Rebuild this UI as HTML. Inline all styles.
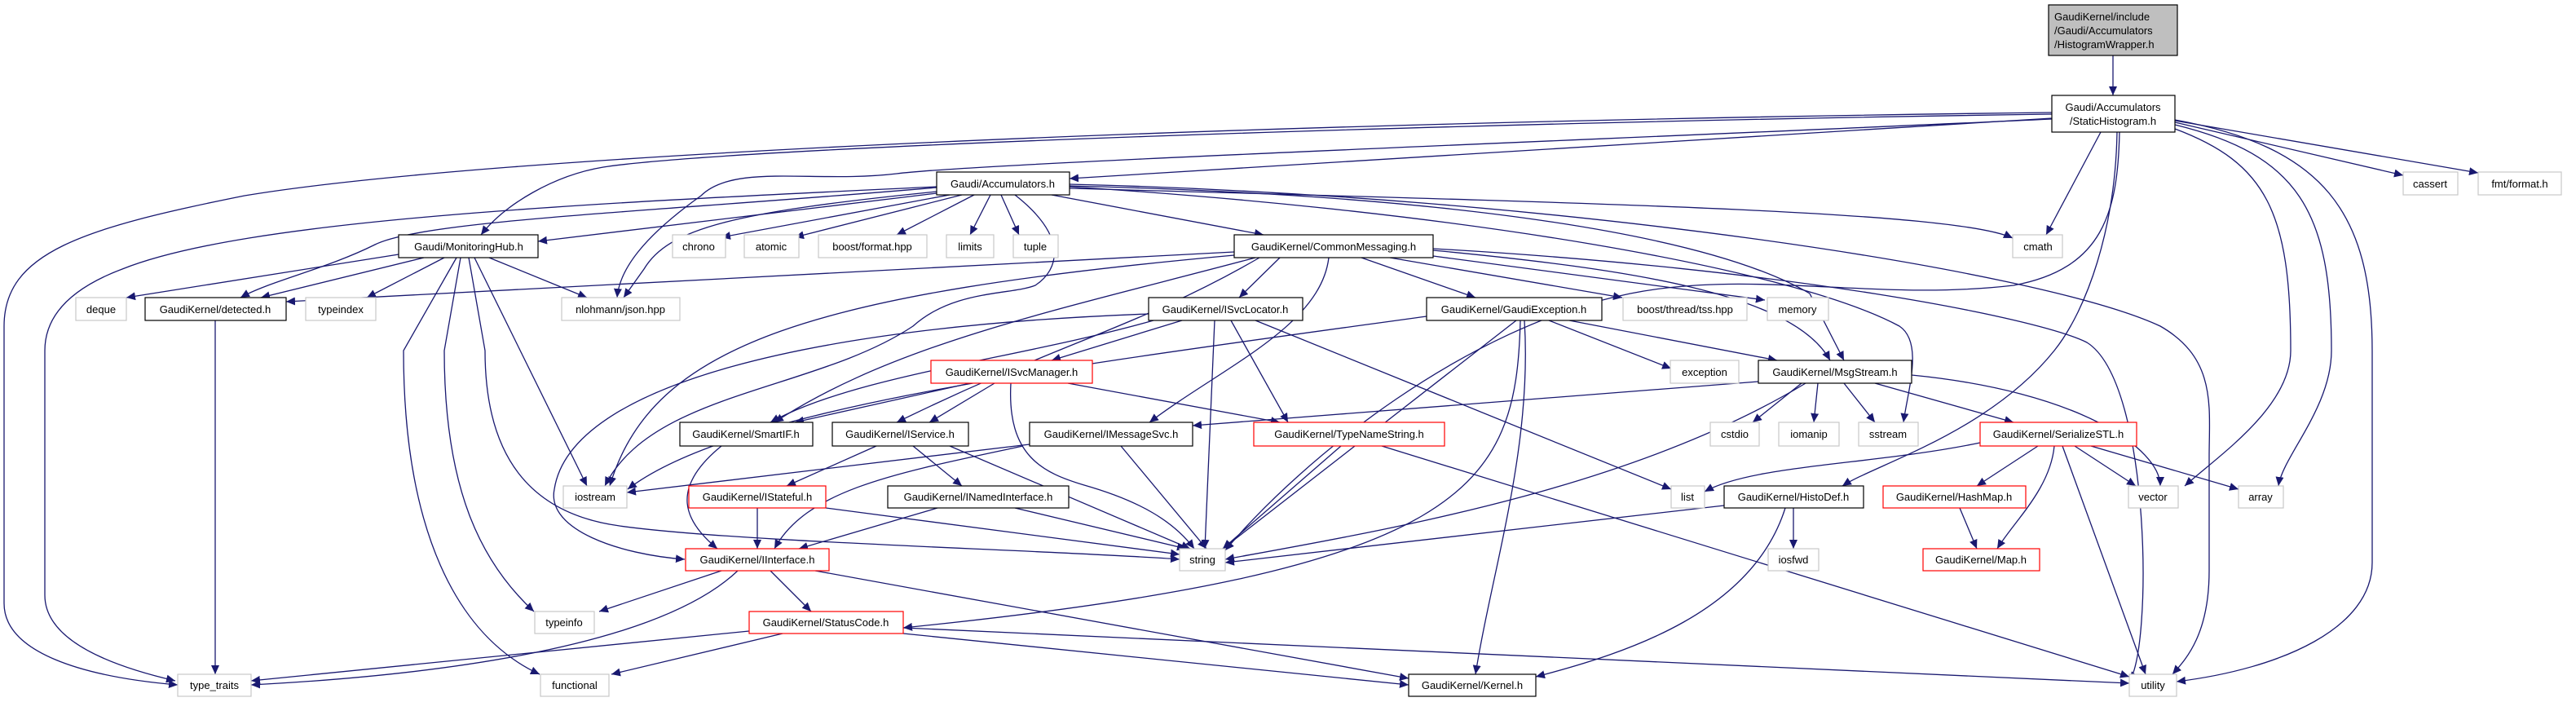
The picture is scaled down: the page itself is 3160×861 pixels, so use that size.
<!DOCTYPE html>
<html><head><meta charset="utf-8"><style>
html,body{margin:0;padding:0;background:#fff;}
svg{display:block;}
text{font-family:"Liberation Sans",sans-serif;font-size:13px;fill:#000;}
.e{fill:none;stroke:#191970;stroke-width:1.3;marker-end:url(#a);}
.b{fill:#fff;stroke:#000;stroke-width:1.2;}
.g{fill:#fff;stroke:#c8c8c8;stroke-width:1.2;}
.r{fill:#fff;stroke:#ff0000;stroke-width:1.2;}
</style></head><body>
<svg width="3160" height="861" viewBox="0 0 3160 861" xmlns="http://www.w3.org/2000/svg">
<defs><marker id="a" markerUnits="userSpaceOnUse" markerWidth="12" markerHeight="10" refX="11" refY="5" orient="auto"><path d="M0,0 L11,5 L0,10 z" fill="#191970"/></marker></defs>
<g>
<path class="e" d="M2592,68 L2592,117"/>
<path class="e" d="M2517,145 L1312,219"/>
<path class="e" d="M2517,140 C1800,150 900,180 740,205 C680,215 620,250 590,288"/>
<path class="e" d="M2517,138 C1500,150 600,190 300,240 C100,280 5,310 5,400 L5,740 C5,800 100,830 218,840"/>
<path class="e" d="M2517,146 C2000,170 1200,200 1100,213 C1000,225 900,200 860,240 C790,290 760,330 757,365"/>
<path class="e" d="M2577,162 L2510,288"/>
<path class="e" d="M2668,150 L2948,215"/>
<path class="e" d="M2668,148 L3040,212"/>
<path class="e" d="M2668,158 C2780,200 2810,260 2810,430 C2810,500 2720,560 2680,596"/>
<path class="e" d="M2668,153 C2820,190 2860,260 2860,430 C2860,500 2800,560 2795,596"/>
<path class="e" d="M2668,147 C2850,180 2910,260 2910,430 L2910,690 C2910,770 2800,820 2670,836"/>
<path class="e" d="M2600,162 C2598,260 2580,330 2470,350 C2300,370 2150,330 2000,360 C1800,400 1600,560 1503,675"/>
<path class="e" d="M2597,162 C2595,280 2560,380 2520,430 C2440,530 2300,570 2260,596"/>
<path class="e" d="M1149,237 L660,296"/>
<path class="e" d="M1165,239 L885,291"/>
<path class="e" d="M1180,239 L975,291"/>
<path class="e" d="M1195,239 L1100,288"/>
<path class="e" d="M1215,239 L1190,288"/>
<path class="e" d="M1228,239 L1250,288"/>
<path class="e" d="M1290,239 L1550,288"/>
<path class="e" d="M1312,231 C2000,250 2400,260 2469,292"/>
<path class="e" d="M1149,230 C800,260 520,270 460,300 C400,330 330,345 295,365"/>
<path class="e" d="M1149,229 C700,250 300,270 150,330 C70,360 55,400 55,430 L55,730 C55,790 150,820 215,835"/>
<path class="e" d="M1149,235 C900,260 820,280 790,330 L765,365"/>
<path class="e" d="M1245,239 C1310,290 1300,330 1270,350 C1240,362 1170,355 1120,400 C1000,480 800,480 742,596"/>
<path class="e" d="M1312,228 C1800,240 2100,290 2220,360 L2262,442"/>
<path class="e" d="M1312,226 C1900,240 2500,330 2650,400 C2720,440 2710,500 2710,560 L2710,700 C2710,780 2680,810 2665,827"/>
<path class="e" d="M1312,229 C1800,260 2200,330 2330,400 C2360,420 2340,480 2335,518"/>
<path class="e" d="M489,312 L155,365"/>
<path class="e" d="M520,316 L320,365"/>
<path class="e" d="M545,316 L450,365"/>
<path class="e" d="M600,316 L720,365"/>
<path class="e" d="M582,316 L720,596"/>
<path class="e" d="M575,316 L595,430 C595,560 650,630 760,645 C900,665 1300,675 1447,686"/>
<path class="e" d="M565,316 L545,430 C545,600 590,690 655,750"/>
<path class="e" d="M560,316 L495,430 C495,650 560,780 662,827"/>
<path class="e" d="M1514,309 L351,370"/>
<path class="e" d="M1570,316 L1520,365"/>
<path class="e" d="M1670,316 L1810,365"/>
<path class="e" d="M1705,316 L1990,365"/>
<path class="e" d="M1758,314 L2165,368"/>
<path class="e" d="M1758,307 C2000,330 2200,360 2245,442"/>
<path class="e" d="M1758,305 C2200,330 2500,390 2560,420 C2640,470 2640,800 2612,835"/>
<path class="e" d="M1540,316 C1300,380 1100,420 950,518"/>
<path class="e" d="M1545,316 C1400,400 1300,420 1100,518"/>
<path class="e" d="M1630,316 C1620,400 1500,450 1410,518"/>
<path class="e" d="M1514,313 C1000,360 800,420 748,596"/>
<path class="e" d="M1450,393 L1290,442"/>
<path class="e" d="M1415,393 C1250,440 1050,460 945,518"/>
<path class="e" d="M1409,385 C1000,400 700,470 680,600 C670,650 760,680 840,686"/>
<path class="e" d="M1490,393 L1478,673"/>
<path class="e" d="M1510,393 L1580,518"/>
<path class="e" d="M1540,393 L2050,600"/>
<path class="e" d="M1750,388 C1300,450 900,500 770,600"/>
<path class="e" d="M1900,393 L2050,452"/>
<path class="e" d="M1925,393 L2180,442"/>
<path class="e" d="M1860,393 L1500,673"/>
<path class="e" d="M1870,393 C1880,550 1830,700 1810,827"/>
<path class="e" d="M1865,393 C1860,600 1800,700 1108,770"/>
<path class="e" d="M1190,470 L975,518"/>
<path class="e" d="M1220,470 L1140,518"/>
<path class="e" d="M1310,470 L1570,518"/>
<path class="e" d="M1240,470 C1235,560 1280,580 1330,595 C1400,615 1440,640 1465,673"/>
<path class="e" d="M2157,468 L1463,522"/>
<path class="e" d="M2210,470 L2150,518"/>
<path class="e" d="M2230,470 L2225,518"/>
<path class="e" d="M2262,470 L2300,518"/>
<path class="e" d="M2300,470 L2470,518"/>
<path class="e" d="M2345,460 C2550,480 2650,550 2650,596"/>
<path class="e" d="M2215,470 C2000,600 1700,650 1503,686"/>
<path class="e" d="M2429,543 C2300,570 2150,570 2091,603"/>
<path class="e" d="M2500,547 L2425,596"/>
<path class="e" d="M2520,547 C2515,600 2470,640 2450,673"/>
<path class="e" d="M2545,547 L2620,596"/>
<path class="e" d="M2565,547 L2746,600"/>
<path class="e" d="M2530,547 L2632,827"/>
<path class="e" d="M2200,623 L2200,673"/>
<path class="e" d="M2115,620 L1503,690"/>
<path class="e" d="M2190,623 C2150,750 2000,800 1884,830"/>
<path class="e" d="M2404,623 L2425,673"/>
<path class="e" d="M1645,547 L1500,673"/>
<path class="e" d="M1695,547 L2612,830"/>
<path class="e" d="M1263,545 L769,604"/>
<path class="e" d="M1255,547 C1100,580 990,600 950,673"/>
<path class="e" d="M1375,547 L1480,673"/>
<path class="e" d="M885,547 C820,600 840,640 880,673"/>
<path class="e" d="M1075,547 L965,596"/>
<path class="e" d="M1120,547 L1180,596"/>
<path class="e" d="M1165,547 L1460,673"/>
<path class="e" d="M929,623 L929,673"/>
<path class="e" d="M1013,623 L1447,680"/>
<path class="e" d="M1150,623 L980,673"/>
<path class="e" d="M1245,623 L1455,673"/>
<path class="e" d="M885,700 L735,750"/>
<path class="e" d="M945,700 L995,750"/>
<path class="e" d="M905,700 C800,800 500,830 308,840"/>
<path class="e" d="M1000,700 L1728,832"/>
<path class="e" d="M919,774 L308,835"/>
<path class="e" d="M960,777 L750,827"/>
<path class="e" d="M1108,777 L1728,840"/>
<path class="e" d="M1108,770 L2612,838"/>
<path class="e" d="M264,393 L264,827"/>
</g>
<g>
<rect x="2513" y="6" width="158" height="62" fill="#bfbfbf" stroke="#000" stroke-width="1.2"/>
<text x="2520" y="25">GaudiKernel/include</text>
<text x="2520" y="42">/Gaudi/Accumulators</text>
<text x="2520" y="59">/HistogramWrapper.h</text>
<rect class="b" x="2517" y="117" width="151" height="45"/>
<text x="2592" y="136" text-anchor="middle">Gaudi/Accumulators</text>
<text x="2592" y="153" text-anchor="middle">/StaticHistogram.h</text>

<rect class="b" x="1149" y="211" width="163" height="28"/><text x="1230" y="230" text-anchor="middle">Gaudi/Accumulators.h</text>
<rect class="g" x="2948" y="211" width="67" height="28"/><text x="2981" y="230" text-anchor="middle">cassert</text>
<rect class="g" x="3040" y="211" width="102" height="28"/><text x="3091" y="230" text-anchor="middle">fmt/format.h</text>

<rect class="b" x="489" y="288" width="171" height="28"/><text x="575" y="307" text-anchor="middle">Gaudi/MonitoringHub.h</text>
<rect class="g" x="825" y="288" width="65" height="28"/><text x="857" y="307" text-anchor="middle">chrono</text>
<rect class="g" x="913" y="288" width="67" height="28"/><text x="946" y="307" text-anchor="middle">atomic</text>
<rect class="g" x="1004" y="288" width="133" height="28"/><text x="1070" y="307" text-anchor="middle">boost/format.hpp</text>
<rect class="g" x="1161" y="288" width="58" height="28"/><text x="1190" y="307" text-anchor="middle">limits</text>
<rect class="g" x="1243" y="288" width="55" height="28"/><text x="1270" y="307" text-anchor="middle">tuple</text>
<rect class="b" x="1514" y="288" width="244" height="28"/><text x="1636" y="307" text-anchor="middle">GaudiKernel/CommonMessaging.h</text>
<rect class="g" x="2469" y="288" width="61" height="28"/><text x="2500" y="307" text-anchor="middle">cmath</text>

<rect class="g" x="93" y="365" width="62" height="28"/><text x="124" y="384" text-anchor="middle">deque</text>
<rect class="b" x="178" y="365" width="173" height="28"/><text x="264" y="384" text-anchor="middle">GaudiKernel/detected.h</text>
<rect class="g" x="375" y="365" width="86" height="28"/><text x="418" y="384" text-anchor="middle">typeindex</text>
<rect class="g" x="689" y="365" width="145" height="28"/><text x="761" y="384" text-anchor="middle">nlohmann/json.hpp</text>
<rect class="b" x="1409" y="365" width="189" height="28"/><text x="1503" y="384" text-anchor="middle">GaudiKernel/ISvcLocator.h</text>
<rect class="b" x="1750" y="365" width="215" height="28"/><text x="1857" y="384" text-anchor="middle">GaudiKernel/GaudiException.h</text>
<rect class="g" x="1991" y="365" width="152" height="28"/><text x="2067" y="384" text-anchor="middle">boost/thread/tss.hpp</text>
<rect class="g" x="2168" y="365" width="75" height="28"/><text x="2205" y="384" text-anchor="middle">memory</text>

<rect class="r" x="1142" y="442" width="198" height="28"/><text x="1241" y="461" text-anchor="middle">GaudiKernel/ISvcManager.h</text>
<rect class="g" x="2049" y="442" width="84" height="28"/><text x="2091" y="461" text-anchor="middle">exception</text>
<rect class="b" x="2157" y="442" width="188" height="28"/><text x="2251" y="461" text-anchor="middle">GaudiKernel/MsgStream.h</text>

<rect class="b" x="834" y="518" width="163" height="29"/><text x="915" y="537" text-anchor="middle">GaudiKernel/SmartIF.h</text>
<rect class="b" x="1021" y="518" width="167" height="29"/><text x="1104" y="537" text-anchor="middle">GaudiKernel/IService.h</text>
<rect class="b" x="1263" y="518" width="200" height="29"/><text x="1363" y="537" text-anchor="middle">GaudiKernel/IMessageSvc.h</text>
<rect class="r" x="1538" y="518" width="234" height="29"/><text x="1655" y="537" text-anchor="middle">GaudiKernel/TypeNameString.h</text>
<rect class="g" x="2098" y="518" width="60" height="29"/><text x="2128" y="537" text-anchor="middle">cstdio</text>
<rect class="g" x="2182" y="518" width="74" height="29"/><text x="2219" y="537" text-anchor="middle">iomanip</text>
<rect class="g" x="2280" y="518" width="73" height="29"/><text x="2316" y="537" text-anchor="middle">sstream</text>
<rect class="r" x="2429" y="518" width="192" height="29"/><text x="2525" y="537" text-anchor="middle">GaudiKernel/SerializeSTL.h</text>

<rect class="g" x="691" y="596" width="78" height="27"/><text x="730" y="614" text-anchor="middle">iostream</text>
<rect class="r" x="845" y="596" width="168" height="27"/><text x="929" y="614" text-anchor="middle">GaudiKernel/IStateful.h</text>
<rect class="b" x="1089" y="596" width="222" height="27"/><text x="1200" y="614" text-anchor="middle">GaudiKernel/INamedInterface.h</text>
<rect class="g" x="2050" y="596" width="41" height="27"/><text x="2070" y="614" text-anchor="middle">list</text>
<rect class="b" x="2115" y="596" width="171" height="27"/><text x="2200" y="614" text-anchor="middle">GaudiKernel/HistoDef.h</text>
<rect class="r" x="2310" y="596" width="175" height="27"/><text x="2397" y="614" text-anchor="middle">GaudiKernel/HashMap.h</text>
<rect class="g" x="2611" y="596" width="61" height="27"/><text x="2641" y="614" text-anchor="middle">vector</text>
<rect class="g" x="2746" y="596" width="55" height="27"/><text x="2773" y="614" text-anchor="middle">array</text>

<rect class="r" x="841" y="673" width="176" height="27"/><text x="929" y="691" text-anchor="middle">GaudiKernel/IInterface.h</text>
<rect class="g" x="1447" y="673" width="56" height="27"/><text x="1475" y="691" text-anchor="middle">string</text>
<rect class="g" x="2169" y="673" width="62" height="27"/><text x="2200" y="691" text-anchor="middle">iosfwd</text>
<rect class="r" x="2359" y="673" width="143" height="27"/><text x="2430" y="691" text-anchor="middle">GaudiKernel/Map.h</text>

<rect class="g" x="656" y="750" width="73" height="27"/><text x="692" y="768" text-anchor="middle">typeinfo</text>
<rect class="r" x="919" y="750" width="189" height="27"/><text x="1013" y="768" text-anchor="middle">GaudiKernel/StatusCode.h</text>

<rect class="g" x="218" y="827" width="90" height="27"/><text x="263" y="845" text-anchor="middle">type_traits</text>
<rect class="g" x="663" y="827" width="84" height="27"/><text x="705" y="845" text-anchor="middle">functional</text>
<rect class="b" x="1728" y="827" width="156" height="27"/><text x="1806" y="845" text-anchor="middle">GaudiKernel/Kernel.h</text>
<rect class="g" x="2612" y="827" width="58" height="27"/><text x="2641" y="845" text-anchor="middle">utility</text>
</g>
</svg>
</body></html>
